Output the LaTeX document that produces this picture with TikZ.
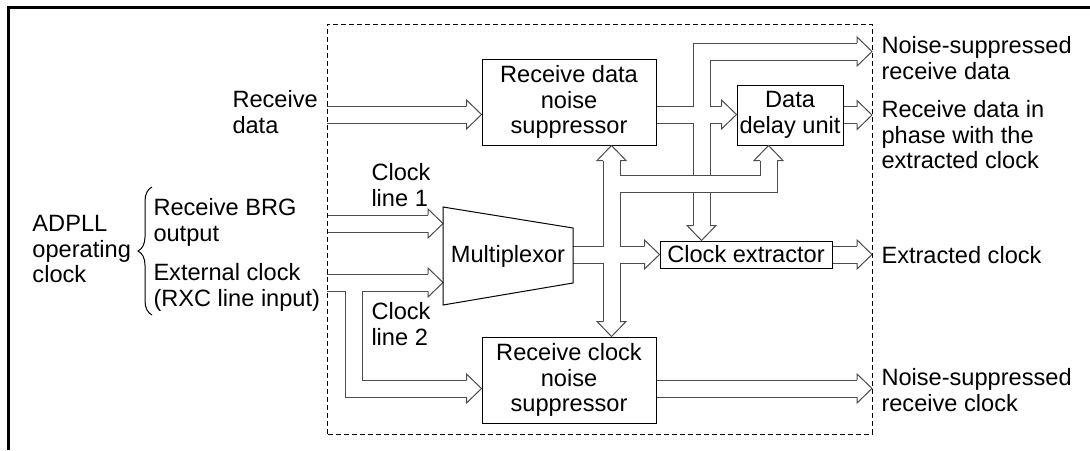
\documentclass[tikz,border=0pt]{standalone}
\usepackage{fontspec}
\setmainfont{Liberation Sans}
\usetikzlibrary{calc, decorations.pathreplacing}
\newcommand\schrift{\fontsize{11.8pt}{12.75pt}\selectfont}
\tikzset{
  block/.style={rectangle, draw=black, line width=0.5pt, font=\schrift, align=center, inner sep=1pt},
  beschr/.style={font=\schrift, align=left, inner sep=0pt, anchor=north west},
  kanalaussen/.style={line width=9pt, draw=black!70},
  kanalinnen/.style={line width=8pt, draw=white},
  spitze/.style={shorten >=7.5pt},
  kopf/.pic={\draw[black!70, line width=0.5pt, fill=white, line join=miter]
             (-15,-8.5) -- (-15,-14.5) -- (0,0) -- (-15,14.5) -- (-15,8.5);}
}

\begin{document}
\begin{tikzpicture}[x=0.5pt, y=-0.5pt, line width=0.5pt]
  \useasboundingbox (0,0) rectangle (1090,450);
  % Rahmen und Bloecke
  \node (rahmen) [minimum width=272.5pt, minimum height=205pt, inner sep=0pt, outer sep=0pt] at (599.5,229) {};
  \node (rdns) [block, minimum width=87pt, minimum height=43pt] at (569,102) {Receive data\\noise\\suppressor};
  \node (rcns) [block, minimum width=87pt, minimum height=43pt] at (569,380) {Receive clock\\noise\\suppressor};
  \node (ddu) [block, minimum width=53pt, minimum height=30pt] at (790,115) {Data\\delay unit};
  \node (ce) [block, minimum width=86pt, minimum height=13.5pt, inner sep=0.5pt] at (746,254.5) {Clock extractor};
  \node (mux) [font=\schrift, minimum width=65pt, minimum height=49pt, inner sep=0pt, outer sep=0pt] at (508,256) {Multiplexor};

  % Beschriftungen
  \node (tadpll) [beschr] at (32,215) {ADPLL\\operating\\clock};
  \node (tbrg) [beschr] at (153,198) {Receive BRG\\output};
  \node (textclk) [beschr] at (153,263) {External clock\\(RXC line input)};
  \node (trd) [beschr] at (232,90) {Receive\\data};
  \node (tkl1) [beschr] at (371,163) {Clock\\line 1};
  \node (tkl2) [beschr] at (371,302) {Clock\\line 2};
  \node (tnsd) [beschr] at (881,36) {Noise-suppressed\\receive data};
  \node (tphase) [beschr] at (881,100) {Receive data in\\phase with the\\extracted clock};
  \node (tce) [beschr] at (881,246) {Extracted clock};
  \node (tnsc) [beschr] at (881,368) {Noise-suppressed\\receive clock};

  % Knickpunkte
  \coordinate (rd) at (327,114.5);
  \coordinate (kl1) at (327,223.5);
  \coordinate (kl2) at (327,282.5);
  \coordinate (rcab) at (354,282.5);
  \coordinate (rcein) at (354,388.5);
  \coordinate (abzw) at (701.5,114.5);
  \coordinate (knick) at (701.5,51.5);
  \coordinate (bus) at (611.5,183.5);
  \coordinate (ddux) at (768.5,183.5);

  % Datenpfad
  \foreach \s in {kanalaussen,kanalinnen}{
    \draw[\s, spitze] (rdns.east |- abzw) -- (ddu.west |- abzw);
    \draw[\s, spitze] (abzw) -- (knick) -- (knick -| rahmen.east);
    \draw[\s, spitze] (abzw) -- (abzw |- ce.north);
  }
  % Taktbus
  \foreach \s in {kanalaussen,kanalinnen}{
    \draw[\s, shorten <=7.5pt, shorten >=7.5pt] (bus |- rdns.south) -- (bus |- rcns.north);
    \draw[\s, spitze] (bus) -- (ddux) -- (ddux |- ddu.south);
    \draw[\s, spitze] (mux.east |- ce.west) -- (ce.west);
  }
  % Ein- und Ausgaenge
  \foreach \s in {kanalaussen,kanalinnen}{
    \draw[\s, spitze] (rd) -- (rd -| rdns.west);
    \draw[\s, spitze] (kl1) -- (kl1 -| mux.west);
    \draw[\s, spitze] (kl2) -- (kl2 -| mux.west);
    \draw[\s, spitze] (rcab) -- (rcein) -- (rcein -| rcns.west);
    \draw[\s, spitze] (rcein -| rcns.east) -- (rcein -| rahmen.east);
    \draw[\s, spitze] (ce.east) -- (ce.east -| rahmen.east);
    \draw[\s, spitze] (ddu.east) -- (ddu.east -| rahmen.east);
  }

  % Pfeilspitzen
  \foreach \p in {(ddu.west |- abzw), (knick -| rahmen.east), (ce.west), (rd -| rdns.west),
                  (kl1 -| mux.west), (kl2 -| mux.west), (rcein -| rcns.west),
                  (rcein -| rahmen.east), (ce.east -| rahmen.east), (ddu.east -| rahmen.east)}
    \pic at \p {kopf};
  \pic[rotate=-90] at (abzw |- ce.north) {kopf};
  \pic[rotate=90] at (bus |- rdns.south) {kopf};
  \pic[rotate=-90] at (bus |- rcns.north) {kopf};
  \pic[rotate=90] at (ddux |- ddu.south) {kopf};

  \draw (mux.north west) -- ($(mux.north east)+(0,21)$) -- ($(mux.south east)+(0,-22)$) -- (mux.south west) -- cycle;
  \draw[dash pattern=on 2.5pt off 1.5pt] (rahmen.south west) rectangle (rahmen.north east);
  \draw[decorate, decoration={brace, amplitude=7pt}] (152,315) -- (152,187);
  \draw[line width=1.5pt] (8,450) -- (8,7) -- (1090,7);
\end{tikzpicture}
\end{document}
